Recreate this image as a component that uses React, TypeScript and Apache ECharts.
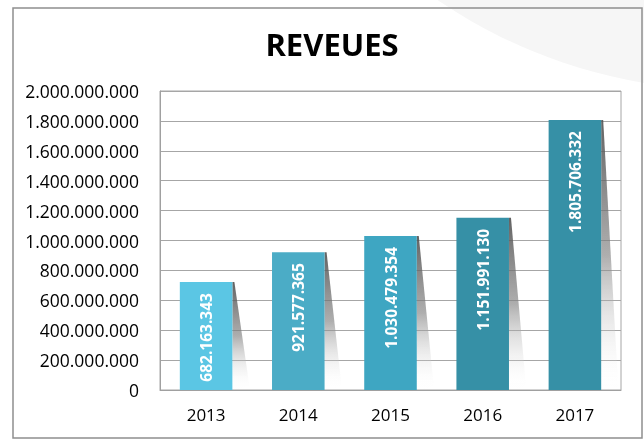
import React, { useEffect, useRef } from "react";
import * as echarts from "echarts";

const categories = ["2013", "2014", "2015", "2016", "2017"];
// values printed on the bars
const revenues = [682163343, 921577365, 1030479354, 1151991130, 1805706332];
// bar heights as drawn in the picture
const barValues = [722000000, 921577365, 1030479354, 1151991130, 1805706332];
const yMin = 0;
const yMax = 2000000000;
const yStep = 200000000;

const barColors = ["#5BC6E4", "#4BACC6", "#3EA6C2", "#3690A6", "#3690A6"];
const FONT = "'Open Sans', 'Noto Sans', sans-serif";
const BAR_RATIO = 0.57;

const fmt = (v: number) =>
  String(Math.round(v)).replace(/\B(?=(\d{3})+(?!\d))/g, ".");

export default function App() {
  const ref = useRef<HTMLDivElement>(null);
  useEffect(() => {
    if (!ref.current) return;
    const chart = echarts.init(ref.current, undefined, { renderer: "svg" });
    chart.setOption({
      animation: false,
      backgroundColor: "transparent",
      graphic: [
        {
          type: "circle",
          shape: { cx: 729, cy: -427, r: 517 },
          style: { fill: "#f6f6f6" },
          z: -10,
          silent: true,
        },
        {
          type: "rect",
          shape: { x: 13, y: 8, width: 629, height: 430 },
          style: { fill: "none", stroke: "#8f8f8f", lineWidth: 1.5 },
          z: 100,
          silent: true,
        },
      ],
      title: {
        text: "REVEUES",
        left: 327,
        textAlign: "center",
        top: 23,
        textStyle: {
          fontFamily: FONT,
          fontWeight: "bold",
          fontSize: 31,
          color: "#000",
        },
      },
      grid: {
        left: 160,
        right: 23,
        top: 91,
        bottom: 49,
        show: true,
        borderColor: "#a6a6a6",
        borderWidth: 1,
      },
      xAxis: {
        type: "category",
        data: categories,
        axisLine: { lineStyle: { color: "#a0a0a0" } },
        axisTick: { show: false },
        axisLabel: { color: "#000", fontSize: 17, fontFamily: FONT, margin: 16 },
      },
      yAxis: {
        type: "value",
        min: yMin,
        max: yMax,
        interval: yStep,
        axisLine: { show: true, lineStyle: { color: "#a0a0a0" } },
        axisTick: { show: false },
        splitLine: { lineStyle: { color: "#a6a6a6" } },
        axisLabel: {
          formatter: (v: number) => fmt(v),
          margin: 21,
          fontSize: 17.5,
          fontFamily: FONT,
          color: "#000",
        },
      },
      series: [
        {
          type: "custom",
          data: barValues.map((v, i) => [i, v]),
          z: 1,
          silent: true,
          renderItem: (params: any, api: any) => {
            const top = api.coord([api.value(0), api.value(1)]);
            const base = api.coord([api.value(0), 0]);
            const band = api.size([1, 0])[0];
            const rx = top[0] + (band * BAR_RATIO) / 2;
            return {
              type: "polygon",
              shape: {
                points: [
                  [rx, top[1]],
                  [rx + 2, top[1]],
                  [rx + 17, base[1] - 4],
                  [rx, base[1]],
                ],
              },
              style: {
                fill: new echarts.graphic.LinearGradient(0, 0, 0, 1, [
                  { offset: 0, color: "rgba(80,80,80,0.9)" },
                  { offset: 0.5, color: "rgba(130,130,130,0.65)" },
                  { offset: 1, color: "rgba(255,255,255,0)" },
                ]),
              },
            };
          },
        },
        {
          type: "bar",
          barWidth: BAR_RATIO * 100 + "%",
          z: 2,
          data: barValues.map((v, i) => ({
            value: v,
            itemStyle: { color: barColors[i] },
          })),
          label: {
            show: true,
            position: "insideTop",
            rotate: 90,
            align: "right",
            verticalAlign: "middle",
            distance: 11,
            color: "#fff",
            fontSize: 15.5,
            fontWeight: "bold",
            fontFamily: FONT,
            formatter: (p: any) => fmt(revenues[p.dataIndex]),
          },
        },
      ],
    });
    return () => chart.dispose();
  }, []);
  return (
    <div
      ref={ref}
      style={{ position: "fixed", left: 0, top: 0, width: 644, height: 439 }}
    />
  );
}
